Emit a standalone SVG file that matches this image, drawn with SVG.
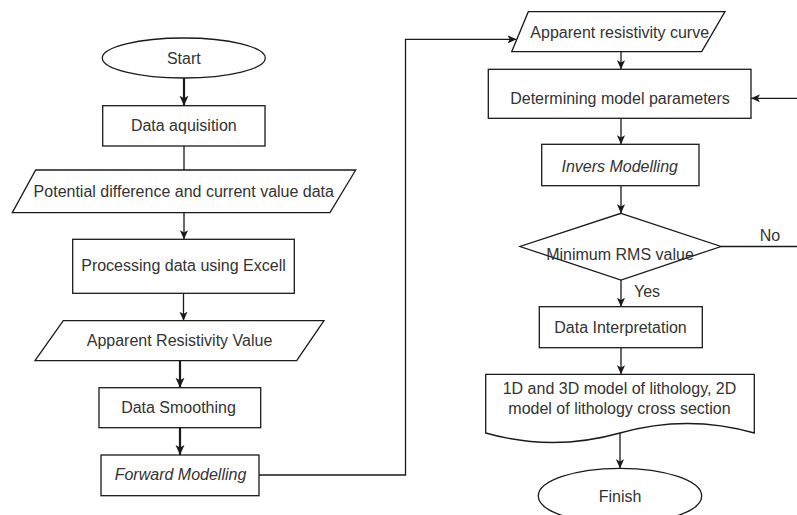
<svg xmlns="http://www.w3.org/2000/svg" width="797" height="515" viewBox="0 0 797 515">
<style>
  .shape { fill: #ffffff; stroke: #1a1a1a; stroke-width: 1.3; }
  .conn { fill: none; stroke: #1a1a1a; stroke-width: 1.3; }
  .thick { stroke-width: 2.2; }
  text { font-family: "Liberation Sans", Arial, sans-serif; font-size: 16px; fill: #333333; text-anchor: middle; dominant-baseline: central; }
  .it { font-style: italic; }
</style>
<defs>
  <marker id="arr" viewBox="0 0 10 10" refX="10" refY="5" markerWidth="9" markerHeight="9" markerUnits="userSpaceOnUse" orient="auto">
    <path d="M0,0.5 L10,5 L0,9.5 L2.5,5 Z" fill="#1a1a1a"/>
  </marker>
  <marker id="arrT" viewBox="0 0 10 10" refX="10" refY="5" markerWidth="10" markerHeight="10" markerUnits="userSpaceOnUse" orient="auto">
    <path d="M0,0.5 L10,5 L0,9.5 L2.5,5 Z" fill="#1a1a1a"/>
  </marker>
</defs>

<g id="connectors">
  <path class="conn thick" d="M184,78 V105.7" marker-end="url(#arrT)"/>
  <path class="conn" d="M184,146 V170"/>
  <path class="conn" d="M184,212.7 V239.3" marker-end="url(#arr)"/>
  <path class="conn" d="M183.5,293.3 V320.7" marker-end="url(#arr)"/>
  <path class="conn thick" d="M180,360.7 V387.7" marker-end="url(#arrT)"/>
  <path class="conn thick" d="M180,427.7 V455" marker-end="url(#arrT)"/>
  <path class="conn" d="M259,475 H405.5 V39.3 H516.5" marker-end="url(#arr)"/>
  <path class="conn" d="M621,51.7 V69.3" marker-end="url(#arr)"/>
  <path class="conn" d="M797,98.3 H751" marker-end="url(#arr)"/>
  <path class="conn" d="M621,118.3 V144.3" marker-end="url(#arr)"/>
  <path class="conn" d="M621,185.7 V213.3" marker-end="url(#arr)"/>
  <path class="conn" d="M721,246.5 H797"/>
  <path class="conn" d="M621,280 V306.7" marker-end="url(#arr)"/>
  <path class="conn" d="M621,347.7 V374.3" marker-end="url(#arr)"/>
  <path class="conn" d="M620,433 V468.3" marker-end="url(#arr)"/>
  <text x="770" y="235">No</text>
  <text x="647" y="291.7">Yes</text>
</g>

<g id="start">
  <ellipse class="shape" cx="183.8" cy="58" rx="81.5" ry="20"/>
  <text x="183.8" y="58.3">Start</text>
</g>
<g id="data-aquisition">
  <rect class="shape" x="102.7" y="105.7" width="162.3" height="40.3"/>
  <text x="183.8" y="125.5">Data aquisition</text>
</g>
<g id="potential-data">
  <polygon class="shape" points="35.7,170 355.7,170 330,212.7 12.3,212.7"/>
  <text x="183.8" y="191">Potential difference and current value data</text>
</g>
<g id="processing">
  <rect class="shape" x="72.7" y="239.3" width="221.6" height="54"/>
  <text x="183.5" y="265.5">Processing data using Excell</text>
</g>
<g id="apparent-resistivity-value">
  <polygon class="shape" points="63.3,320.7 324,320.7 296.7,360.7 35,360.7"/>
  <text x="179.5" y="340.5">Apparent Resistivity Value</text>
</g>
<g id="data-smoothing">
  <rect class="shape" x="99" y="387.7" width="161.7" height="40"/>
  <text x="178.5" y="407">Data Smoothing</text>
</g>
<g id="forward-modelling">
  <rect class="shape" x="101" y="455" width="158" height="40.7"/>
  <text class="it" x="180.5" y="474.5">Forward Modelling</text>
</g>
<g id="apparent-resistivity-curve">
  <polygon class="shape" points="528.3,11.7 725,11.7 701.7,51.7 511.7,51.7"/>
  <text x="619.7" y="32">Apparent resistivity curve</text>
</g>
<g id="determining">
  <rect class="shape" x="488.3" y="69.3" width="262.7" height="49"/>
  <text x="620" y="98.5">Determining model parameters</text>
</g>
<g id="invers-modelling">
  <rect class="shape" x="541.7" y="144.3" width="157.3" height="41.4"/>
  <text class="it" x="619.7" y="166">Invers Modelling</text>
</g>
<g id="minimum-rms">
  <polygon class="shape" points="621,213.3 721,246.5 621,280 520,246.5"/>
  <text x="620" y="254.5">Minimum RMS value</text>
</g>
<g id="data-interpretation">
  <rect class="shape" x="539.3" y="306.7" width="163" height="41"/>
  <text x="620.5" y="327">Data Interpretation</text>
</g>
<g id="lithology-model">
  <path class="shape" d="M485.7,374.3 H754.3 V433 Q687.2,414 620,433 Q552.8,452 485.7,433 Z"/>
  <text x="619.5" y="388.5">1D and 3D model of lithology, 2D</text>
  <text x="619.5" y="408.5">model of lithology cross section</text>
</g>
<g id="finish">
  <ellipse class="shape" cx="620" cy="496" rx="81.7" ry="27.7"/>
  <text x="620" y="496">Finish</text>
</g>
</svg>
